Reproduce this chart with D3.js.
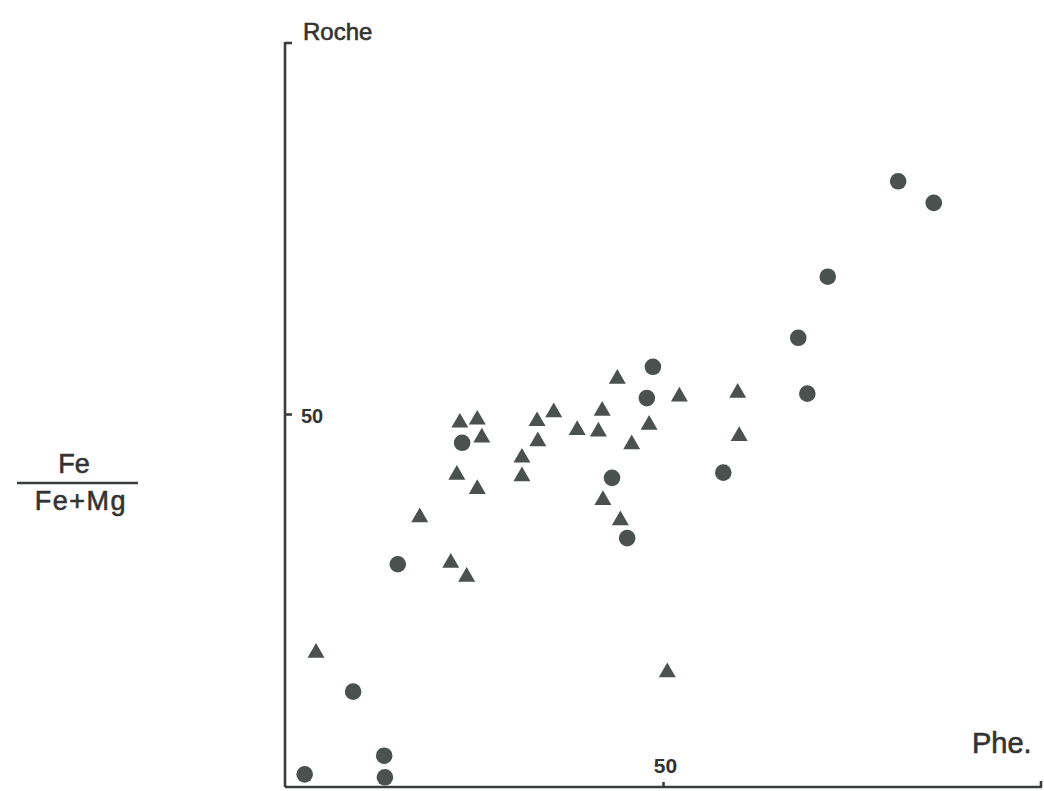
<!DOCTYPE html>
<html>
<head>
<meta charset="utf-8">
<script src="https://cdn.jsdelivr.net/npm/d3@7"></script>
<style>
  html, body { margin: 0; padding: 0; background: #fff; }
  svg { display: block; }
  text { font-family: "Liberation Sans", Arial, sans-serif; fill: #333; }
  .heavy { stroke: #333; stroke-width: 0.6px; }
</style>
</head>
<body>
<svg id="chart" width="1044" height="791"></svg>
<script>
// Rock (Fe/(Fe+Mg)) versus phengite (Phe.) — two sample groups
const circleX = [2.6, 9.0, 13.1, 13.2, 14.9, 23.4, 43.2, 45.2, 47.8, 48.6, 57.9, 67.8, 69.0, 71.7, 81.0, 85.7];
const circleY = [1.7, 12.8, 4.2, 1.3, 29.9, 46.2, 41.5, 33.4, 52.2, 56.4, 42.2, 60.3, 52.8, 68.5, 81.3, 78.4];

const triangleX = [4.1, 17.8, 21.9, 24.0, 23.1, 25.4, 22.7, 26.0, 25.4, 31.3, 31.3, 33.3, 33.4, 35.5,
                   38.6, 41.4, 41.9, 42.0, 43.9, 44.3, 45.8, 48.1, 52.1, 50.5, 59.8, 60.0];
const triangleY = [18.0, 36.2, 30.1, 28.2, 48.9, 49.3, 41.9, 46.9, 40.0, 44.2, 41.7, 49.1, 46.4, 50.3,
                   47.9, 47.7, 50.5, 38.5, 54.8, 35.8, 46.0, 48.6, 52.4, 15.4, 52.9, 47.1];

const xTicks = [50];
const yTicks = [50];
const xDomain = [0, 100];
const yDomain = [0, 100];

const svg = d3.select("#chart");
const ink = "#3b3d3c";
const markColor = "#4a514e";

const x = d3.scaleLinear().domain(xDomain).range([285, 1042]);
const y = d3.scaleLinear().domain(yDomain).range([787, 42]);

// Axes: plain lines with short inward ticks
const axes = svg.append("g").attr("stroke", ink).attr("stroke-width", 2.6).attr("fill", "none");
axes.append("line").attr("x1", x(0)).attr("x2", x(0)).attr("y1", y(100)).attr("y2", y(0));
axes.append("line").attr("x1", x(0)).attr("x2", x(100)).attr("y1", y(0)).attr("y2", y(0));
// end caps
axes.append("line").attr("x1", x(0)).attr("x2", x(0) + 7).attr("y1", y(100) + 1).attr("y2", y(100) + 1);
axes.append("line").attr("x1", x(100) - 1).attr("x2", x(100) - 1).attr("y1", y(0)).attr("y2", y(0) - 6);

// tick marks
axes.selectAll(".yt").data(yTicks).join("line")
  .attr("x1", x(0)).attr("x2", x(0) + 7).attr("y1", d => y(d)).attr("y2", d => y(d));
axes.selectAll(".xt").data(xTicks).join("line")
  .attr("x1", d => x(d)).attr("x2", d => x(d)).attr("y1", y(0)).attr("y2", y(0) - 5);

// tick labels
svg.selectAll(".ytl").data(yTicks).join("text")
  .attr("x", x(0) + 16).attr("y", d => y(d) + 8)
  .attr("font-size", 20).attr("font-weight", "bold")
  .text(d => d);
svg.selectAll(".xtl").data(xTicks).join("text")
  .attr("x", d => x(d) + 2).attr("y", y(0) - 14)
  .attr("text-anchor", "middle")
  .attr("font-size", 21).attr("font-weight", "bold")
  .text(d => d);

// axis titles
svg.append("text").attr("class", "heavy").attr("x", 303).attr("y", 40).attr("font-size", 24).text("Roche");
svg.append("text").attr("class", "heavy").attr("x", 972).attr("y", 753).attr("font-size", 29).text("Phe.");

// Fe / (Fe+Mg) fraction
svg.append("text").attr("class", "heavy").attr("x", 74).attr("y", 473)
  .attr("text-anchor", "middle").attr("font-size", 27).text("Fe");
svg.append("line").attr("x1", 17).attr("x2", 138).attr("y1", 483).attr("y2", 483)
  .attr("stroke", ink).attr("stroke-width", 2.6);
svg.append("text").attr("class", "heavy").attr("x", 81).attr("y", 510)
  .attr("text-anchor", "middle").attr("font-size", 27).attr("letter-spacing", 1.5).text("Fe+Mg");

// circles
const circles = d3.zip(circleX, circleY);
svg.append("g").selectAll("circle").data(circles).join("circle")
  .attr("cx", d => x(d[0])).attr("cy", d => y(d[1])).attr("r", 8.3)
  .attr("fill", markColor);

// triangles
const triangles = d3.zip(triangleX, triangleY);
const tri = d3.symbol().type(d3.symbolTriangle).size(125);
svg.append("g").selectAll("path").data(triangles).join("path")
  .attr("transform", d => `translate(${x(d[0])},${y(d[1])})`)
  .attr("d", tri)
  .attr("fill", markColor);
</script>
</body>
</html>
